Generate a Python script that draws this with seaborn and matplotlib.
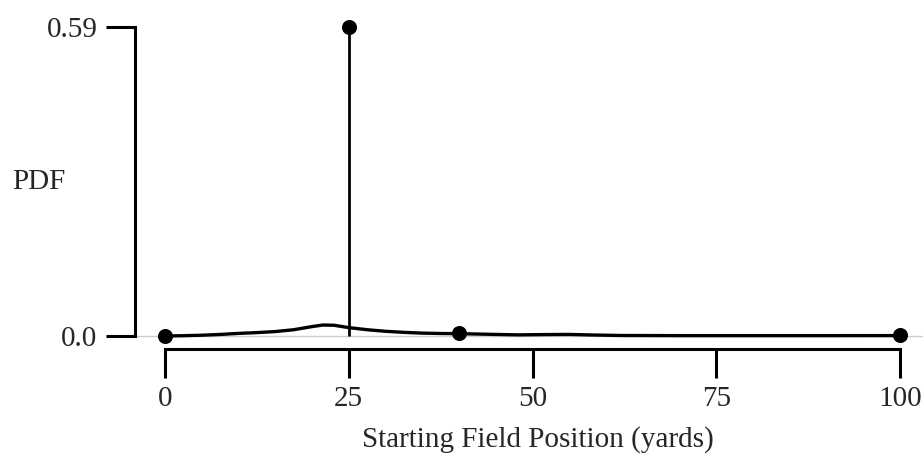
import matplotlib
matplotlib.use("Agg")
import matplotlib.pyplot as plt
import seaborn as sns
import pandas as pd

# density curve
curve_x = [0, 2.5, 5, 7.5, 10, 12.5, 15, 17.5, 20, 21.5, 23, 25, 27.5, 30,
           32.5, 35, 37.5, 40, 45, 48, 52, 55, 58, 62, 70, 80, 90, 100]
curve_y = [0.0, 0.0006, 0.0015, 0.003, 0.005, 0.0065, 0.0085, 0.012, 0.018, 0.021,
           0.0205, 0.016, 0.012, 0.009, 0.007, 0.0055, 0.0048, 0.0045, 0.003, 0.0022,
           0.0028, 0.003, 0.002, 0.001, 0.0007, 0.0007, 0.0007, 0.0008]

# point masses
point_x = [0, 25, 40, 100]
point_y = [0.0, 0.59, 0.005, 0.001]

xticks = [0, 25, 50, 75, 100]
yticks = [0.0, 0.59]
ytick_labels = ["0.0", "0.59"]

sns.set_style("white")
plt.rcParams["font.family"] = ["Liberation Serif", "DejaVu Serif"]
plt.rcParams["font.size"] = 21

fig = plt.figure(figsize=(9.23, 4.58), dpi=100)
ax = fig.add_axes([135 / 923, 1 - 349 / 458, 788 / 923, 322 / 458])

curve = pd.DataFrame({"x": curve_x, "y": curve_y})
points = pd.DataFrame({"x": point_x, "y": point_y})

ax.axhline(0, color="#cccccc", lw=1, zorder=0)
sns.lineplot(data=curve, x="x", y="y", ax=ax, color="black", lw=2.4, zorder=2)
ax.vlines(point_x, 0, point_y, color="black", lw=2, zorder=2)
sns.scatterplot(data=points, x="x", y="y", ax=ax, color="black", s=100,
                edgecolor="black", zorder=3, clip_on=False)

ax.set_xlim(-4.08, 103.1)
ax.set_ylim(-0.0248, 0.59)

for side in ["top", "right"]:
    ax.spines[side].set_visible(False)
ax.spines["left"].set_bounds(0, 0.59)
ax.spines["bottom"].set_bounds(0, 100)
for side in ["left", "bottom"]:
    ax.spines[side].set_linewidth(2.2)
    ax.spines[side].set_color("black")

ax.set_xticks(xticks)
ax.set_xticklabels([str(t) for t in xticks])
ax.set_yticks(yticks)
ax.set_yticklabels(ytick_labels)
ax.tick_params(axis="both", direction="out", length=21, width=2.2, color="black", labelsize=21)
ax.tick_params(axis="y", pad=6)
ax.tick_params(axis="x", pad=6)
ax.tick_params(left=True, bottom=True)

ax.set_ylabel("PDF", rotation=0, ha="left", va="center", fontsize=21)
ax.yaxis.set_label_coords(-0.156, 0.52)
ax.set_xlabel("Starting Field Position (yards)", va="center", fontsize=21)
ax.xaxis.set_label_coords(0.511, -0.28)

fig.savefig("out.png", dpi=100)
